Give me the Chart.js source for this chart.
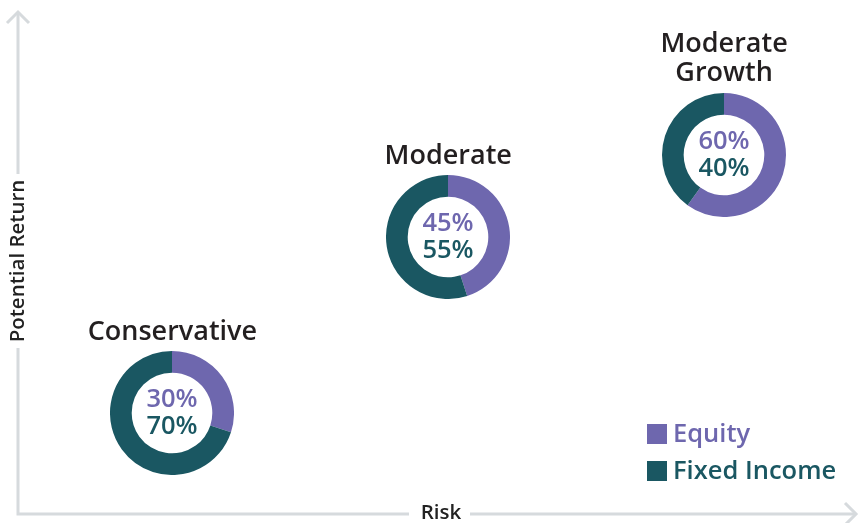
<!DOCTYPE html>
<html>
<head>
<meta charset="utf-8">
<script src="https://cdn.jsdelivr.net/npm/chart.js@4"></script>
<style>
  html, body { margin: 0; padding: 0; background: #fff; }
  #wrap { position: relative; width: 862px; height: 523px; overflow: hidden; }
  #wrap canvas { position: absolute; }
</style>
</head>
<body>
<div id="wrap">
  <canvas id="main" width="862" height="523"></canvas>
</div>
<script>
  // portfolio profiles
  const profiles = ['Conservative', 'Moderate', 'Moderate Growth'];
  const titleLines = [['Conservative'], ['Moderate'], ['Moderate', 'Growth']];
  const riskVals = [2.0, 5.2, 8.4];
  const returnVals = [2.1, 5.47, 7.04];
  const equity = [30, 45, 60];
  const fixedIncome = [70, 55, 40];
  const seriesNames = ['Equity', 'Fixed Income'];

  const purple = '#6e67ae';
  const teal = '#1a5762';
  const axisGray = '#d6dadd';
  const font = "'Open Sans', 'Noto Sans', sans-serif";

  const frame = {
    id: 'frame',
    afterDraw(chart) {
      const c = chart.ctx;
      const xs = chart.scales.x, ys = chart.scales.y;
      c.save();

      // axes with arrows
      c.strokeStyle = axisGray;
      c.lineWidth = 3;
      c.beginPath();
      c.moveTo(18, 12); c.lineTo(18, 174);
      c.moveTo(18, 348); c.lineTo(18, 514);
      c.lineTo(409, 514);
      c.moveTo(470, 514); c.lineTo(856, 514);
      c.stroke();
      c.beginPath();
      c.moveTo(7, 23); c.lineTo(18, 12); c.lineTo(29, 23);
      c.moveTo(845, 503); c.lineTo(856, 514); c.lineTo(845, 525);
      c.stroke();

      c.fillStyle = '#222';
      c.font = '600 20.5px ' + font;
      c.textAlign = 'center';
      c.textBaseline = 'middle';
      c.fillText('Risk', 441, 513);
      c.save();
      c.translate(18, 261);
      c.rotate(-Math.PI / 2);
      c.fillText('Potential Return', 0, 0);
      c.restore();

      // profile titles
      c.font = '600 27px ' + font;
      c.fillStyle = '#231f20';
      profiles.forEach((p, i) => {
        const px = xs.getPixelForValue(riskVals[i]);
        const py = ys.getPixelForValue(returnVals[i]);
        const lines = titleLines[i];
        lines.forEach((t, j) => {
          c.fillText(t, px, py - 81 - (lines.length - 1 - j) * 29);
        });
      });

      // legend
      const colors = [purple, teal];
      c.textAlign = 'left';
      c.font = '600 25.5px ' + font;
      seriesNames.forEach((n, i) => {
        const y = 434 + i * 37;
        c.fillStyle = colors[i];
        c.fillRect(647, y - 10, 20, 20);
        c.fillText(n, 673, y + 1);
      });
      c.restore();
    }
  };

  const main = new Chart(document.getElementById('main'), {
    type: 'scatter',
    data: {
      datasets: [{
        data: riskVals.map((r, i) => ({ x: r, y: returnVals[i] })),
        pointRadius: 0
      }]
    },
    options: {
      responsive: false,
      animation: false,
      layout: { padding: 0 },
      scales: {
        x: { type: 'linear', min: 0, max: 10, display: false },
        y: { type: 'linear', min: 0, max: 10, display: false }
      },
      plugins: { legend: { display: false }, tooltip: { enabled: false } }
    },
    plugins: [frame]
  });

  const centerText = {
    id: 'centerText',
    afterDraw(chart) {
      const c = chart.ctx;
      const a = chart.chartArea;
      const cx = (a.left + a.right) / 2, cy = (a.top + a.bottom) / 2;
      const d = chart.data.datasets[0].data;
      c.save();
      c.font = '600 25.5px ' + font;
      c.textAlign = 'center';
      c.textBaseline = 'middle';
      c.fillStyle = purple;
      c.fillText(d[0] + '%', cx, cy - 13);
      c.fillStyle = teal;
      c.fillText(d[1] + '%', cx, cy + 14);
      c.restore();
    }
  };

  const size = 124;
  const wrap = document.getElementById('wrap');
  profiles.forEach((p, i) => {
    const cv = document.createElement('canvas');
    cv.width = size; cv.height = size;
    const px = main.scales.x.getPixelForValue(riskVals[i]);
    const py = main.scales.y.getPixelForValue(returnVals[i]);
    cv.style.left = (px - size / 2) + 'px';
    cv.style.top = (py - size / 2) + 'px';
    wrap.appendChild(cv);
    new Chart(cv, {
      type: 'doughnut',
      data: {
        labels: seriesNames,
        datasets: [{
          label: p,
          data: [equity[i], fixedIncome[i]],
          backgroundColor: [purple, teal],
          borderWidth: 0
        }]
      },
      options: {
        responsive: false,
        animation: false,
        cutout: '65%',
        layout: { padding: 0 },
        plugins: { legend: { display: false }, tooltip: { enabled: false } }
      },
      plugins: [centerText]
    });
  });
</script>
</body>
</html>
